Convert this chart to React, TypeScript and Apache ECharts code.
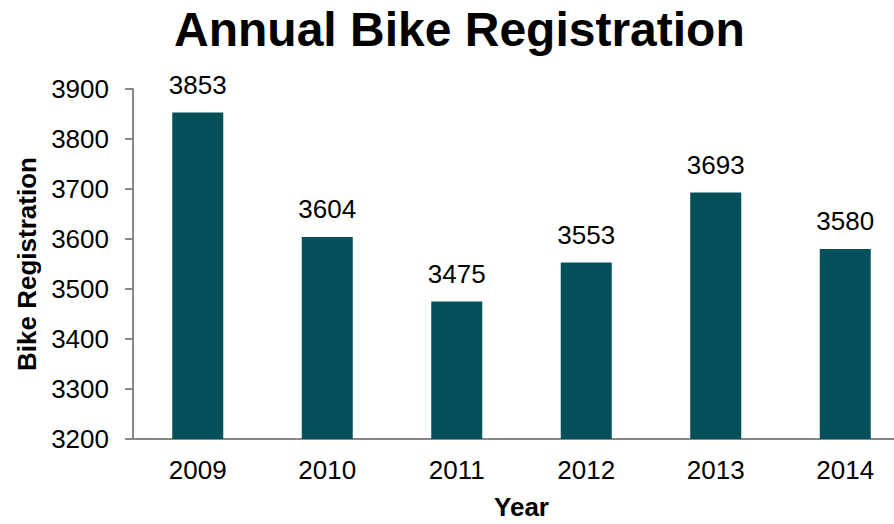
import React, { useEffect, useRef } from "react";
import * as echarts from "echarts";

const years = ["2009", "2010", "2011", "2012", "2013", "2014"];
const registrations = [3853, 3604, 3475, 3553, 3693, 3580];
const titleText = "Annual Bike Registration";
const yName = "Bike Registration";
const xName = "Year";

const FONT = "'Liberation Sans', Arial, sans-serif";

export default function App() {
  const ref = useRef<HTMLDivElement>(null);
  useEffect(() => {
    if (!ref.current) return;
    const chart = echarts.init(ref.current, undefined, { renderer: "svg" });
    chart.setOption({
      animation: false,
      backgroundColor: "#ffffff",
      title: {
        text: titleText,
        left: 169,
        top: 0,
        textStyle: { fontFamily: FONT, fontSize: 48, fontWeight: "bold", color: "#000" },
      },
      grid: {
        left: 133,
        width: 777,
        top: 89,
        height: 350,
        containLabel: false,
        outerBoundsMode: "none",
      },
      xAxis: {
        type: "category",
        data: years,
        name: xName,
        nameLocation: "middle",
        nameGap: 55,
        nameTextStyle: { fontFamily: FONT, fontSize: 26, fontWeight: "bold", color: "#000" },
        axisLine: { lineStyle: { color: "#888888", width: 2 } },
        axisTick: { show: false },
        axisLabel: { fontFamily: FONT, fontSize: 26, color: "#000", margin: 18 },
      },
      yAxis: {
        type: "value",
        min: 3200,
        max: 3900,
        interval: 100,
        name: yName,
        nameLocation: "middle",
        nameGap: 84,
        nameRotate: 90,
        nameTextStyle: { fontFamily: FONT, fontSize: 26, fontWeight: "bold", color: "#000" },
        axisLine: { show: true, lineStyle: { color: "#888888", width: 2 } },
        axisTick: { show: true, length: 8, lineStyle: { color: "#888888", width: 2 } },
        splitLine: { show: false },
        axisLabel: {
          fontFamily: FONT,
          fontSize: 26,
          color: "#000",
          margin: 24,
          formatter: (v: number) => String(v),
        },
      },
      series: [
        {
          type: "bar",
          data: registrations,
          barWidth: 51,
          itemStyle: { color: "#03505A" },
          label: {
            show: true,
            position: "top",
            distance: 15,
            fontFamily: FONT,
            fontSize: 26,
            color: "#000",
          },
        },
      ],
    });
    return () => chart.dispose();
  }, []);
  return (
    <div
      ref={ref}
      style={{ position: "fixed", left: 0, top: 0, width: 894, height: 524 }}
    />
  );
}
